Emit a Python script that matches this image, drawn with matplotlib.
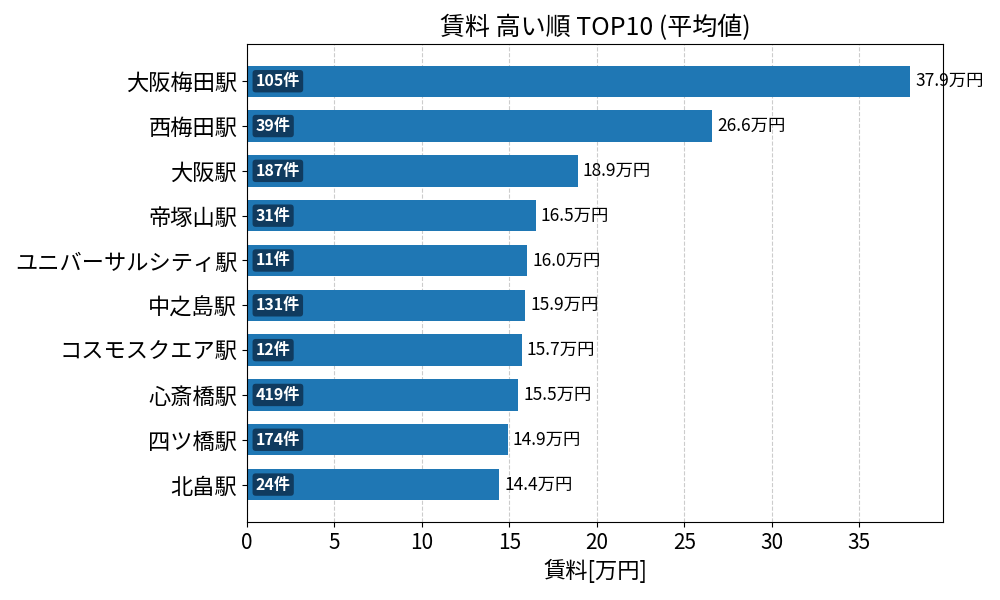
import matplotlib
matplotlib.use("Agg")
import matplotlib.pyplot as plt

plt.rcParams['font.family'] = ['Noto Sans CJK JP', 'DejaVu Sans']

# 駅名と平均賃料(万円)、件数
stations = ["大阪梅田駅", "西梅田駅", "大阪駅", "帝塚山駅", "ユニバーサルシティ駅",
            "中之島駅", "コスモスクエア駅", "心斎橋駅", "四ツ橋駅", "北畠駅"]
rents = [37.9, 26.6, 18.9, 16.5, 16.0, 15.9, 15.7, 15.5, 14.9, 14.4]
counts = [105, 39, 187, 31, 11, 131, 12, 419, 174, 24]

fig, ax = plt.subplots(figsize=(10, 6), dpi=100)
ypos = list(range(len(stations)))
bars = ax.barh(ypos, rents, height=0.7, color="#1f77b4", zorder=2)
ax.invert_yaxis()
ax.set_yticks(ypos)
ax.set_yticklabels(stations, fontsize=16)
ax.tick_params(axis='x', labelsize=15)

xmax = max(rents) * 1.05
ax.set_xlim(0, xmax)
ax.grid(axis='x', linestyle='--', color='#cccccc', zorder=0)

for y, v, c in zip(ypos, rents, counts):
    ax.text(v + 0.3, y, f"{v:.1f}万円", va='center', ha='left', fontsize=12.5)
    ax.text(0.5, y, f"{c}件", va='center', ha='left', fontsize=11.5, color='white',
            fontweight='bold',
            bbox=dict(boxstyle='round,pad=0.2', facecolor='#0f3556', edgecolor='none', alpha=0.9))

ax.set_title("賃料 高い順 TOP10 (平均値)", fontsize=18)
ax.set_xlabel("賃料[万円]", fontsize=16)

fig.subplots_adjust(left=0.247, right=0.943, top=0.927, bottom=0.13)
fig.savefig("out.png")
